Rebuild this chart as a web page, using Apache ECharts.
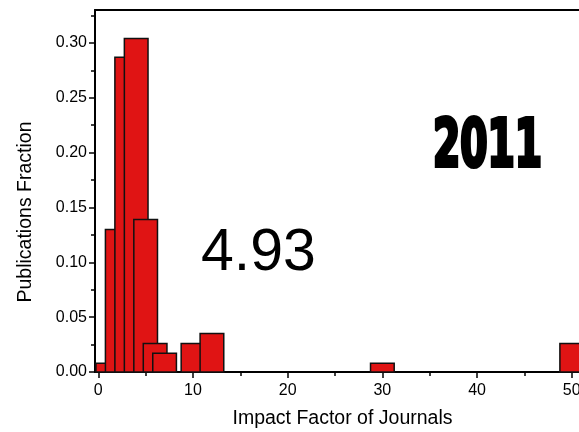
<!DOCTYPE html>
<html>
<head>
<meta charset="utf-8">
<script src="https://cdn.jsdelivr.net/npm/echarts@6/dist/echarts.min.js"></script>
<style>
html,body{margin:0;padding:0;background:#fff;}
#chart{width:579px;height:432px;}
</style>
</head>
<body>
<div id="chart"></div>
<script>
// ---- data ----
const impactFactors = [1, 2, 3, 4, 5, 6, 7, 10, 12, 30, 50];
const fractions = [0.008, 0.13, 0.287, 0.304, 0.139, 0.026, 0.017, 0.026, 0.035, 0.008, 0.026];
const xMajorTicks = [0, 10, 20, 30, 40, 50];
const xMinorTicks = [5, 15, 25, 35, 45];
const yMajorTicks = [0, 0.05, 0.10, 0.15, 0.20, 0.25, 0.30];
const yMinorTicks = [0.025, 0.075, 0.125, 0.175, 0.225, 0.275, 0.325];
const xTitle = 'Impact Factor of Journals';
const yTitle = 'Publications Fraction';
const meanLabel = '4.93';
const yearLabel = '2011';

// ---- layout / style constants ----
const BIN_WIDTH = 2.5;
const X_MIN = -0.35, X_MAX = 51.93, Y_MIN = 0, Y_MAX = 0.33;
const FONT = '"Liberation Sans", Arial, sans-serif';

const chart = echarts.init(document.getElementById('chart'), null, {renderer: 'canvas'});

const lineStyle = {color: '#000', width: 2};
const baseX = {type: 'value', min: X_MIN, max: X_MAX, splitLine: {show: false}};
const baseY = {type: 'value', min: Y_MIN, max: Y_MAX, splitLine: {show: false}};

const option = {
  animation: false,
  backgroundColor: '#fff',
  grid: {left: 95, top: 10, width: 495, height: 362, containLabel: false, outerBoundsMode: 'none'},
  xAxis: [
    Object.assign({}, baseX, {
      position: 'bottom',
      axisLine: {show: true, onZero: false, lineStyle: lineStyle},
      axisTick: {show: true, inside: false, length: 6, lineStyle: {color: '#000', width: 1.5}, customValues: xMajorTicks},
      axisLabel: {show: true, margin: 11, color: '#000', fontSize: 16, fontFamily: FONT, customValues: xMajorTicks,
                  formatter: v => String(v)},
      name: xTitle, nameLocation: 'middle', nameGap: 37,
      nameTextStyle: {color: '#000', fontSize: 19.5, fontFamily: FONT}
    }),
    Object.assign({}, baseX, {
      position: 'bottom',
      axisLine: {show: false, onZero: false},
      axisTick: {show: true, inside: false, length: 4, lineStyle: {color: '#000', width: 1.5}, customValues: xMinorTicks},
      axisLabel: {show: false}
    }),
    Object.assign({}, baseX, {
      position: 'top',
      axisLine: {show: true, onZero: false, lineStyle: lineStyle},
      axisTick: {show: false},
      axisLabel: {show: false}
    })
  ],
  yAxis: [
    Object.assign({}, baseY, {
      position: 'left',
      axisLine: {show: true, onZero: false, lineStyle: lineStyle},
      axisTick: {show: true, inside: false, length: 6, lineStyle: {color: '#000', width: 1.5}, customValues: yMajorTicks},
      axisLabel: {show: true, margin: 8, color: '#000', fontSize: 16, fontFamily: FONT, customValues: yMajorTicks,
                  formatter: v => Number(v).toFixed(2)}
    }),
    Object.assign({}, baseY, {
      position: 'left',
      axisLine: {show: false, onZero: false},
      axisTick: {show: true, inside: false, length: 4, lineStyle: {color: '#000', width: 1.5}, customValues: yMinorTicks},
      axisLabel: {show: false}
    })
  ],
  series: [{
    type: 'custom',
    xAxisIndex: 0,
    yAxisIndex: 0,
    clip: false,
    data: impactFactors.map((x, i) => [x, fractions[i]]),
    renderItem: function (params, api) {
      const x = api.value(0), y = api.value(1);
      const p0 = api.coord([x - BIN_WIDTH / 2, y]);
      const p1 = api.coord([x + BIN_WIDTH / 2, 0]);
      return {
        type: 'rect',
        shape: {x: p0[0], y: p0[1], width: p1[0] - p0[0], height: p1[1] - p0[1]},
        style: {fill: '#e01414', stroke: '#111', lineWidth: 1.5}
      };
    }
  }],
  graphic: [
    {
      type: 'text', x: 26, y: 212, rotation: Math.PI / 2,
      style: {text: yTitle, font: '19.5px ' + FONT, fill: '#000', align: 'center', verticalAlign: 'middle'}
    },
    {
      type: 'text', x: 201, y: 254,
      style: {text: meanLabel, font: '59px ' + FONT, fill: '#000', align: 'left', verticalAlign: 'middle'}
    },
    {
      type: 'text', x: 487.5, y: 149, scaleX: 0.66,
      style: {text: yearLabel, font: 'bold 66px "DejaVu Sans Condensed", "DejaVu Sans", sans-serif',
              fill: '#000', stroke: '#000', lineWidth: 4, align: 'center', verticalAlign: 'middle'}
    }
  ]
};
chart.setOption(option);
</script>
</body>
</html>
